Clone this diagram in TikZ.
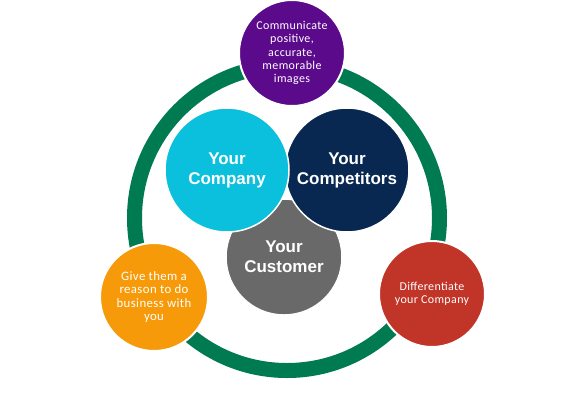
\documentclass[tikz,border=0pt]{standalone}
\usepackage{fontspec}
\setmainfont{Carlito}[LetterSpace=3]
\newfontfamily\innerfont{Liberation Sans}
\definecolor{ringgreen}{RGB}{0,122,80}
\definecolor{cpurple}{RGB}{92,10,140}
\definecolor{corange}{RGB}{247,154,10}
\definecolor{cred}{RGB}{193,52,40}
\definecolor{ccyan}{RGB}{10,192,220}
\definecolor{cnavy}{RGB}{8,40,82}
\definecolor{cgray}{RGB}{105,105,105}
\begin{document}
\begin{tikzpicture}[x=1pt,y=-1pt,
  outer/.style={circle,draw=white,line width=2pt,minimum size=#1,inner sep=0pt,text=white,align=center,
     font=\fontsize{12}{13.4}\selectfont},
  inner/.style={circle,draw=white,line width=1.5pt,minimum size=#1,inner sep=0pt,text=white,align=center,
     font=\innerfont\bfseries\fontsize{17}{20}\selectfont}]
\useasboundingbox (0,0) rectangle (584,400);
\node[circle,draw=ringgreen,line width=15pt,minimum size=305pt,inner sep=0pt] (ring) at (287,218) {};
\node[inner=116pt,fill=cgray] (cust) at (284,257) {Your\\Customer};
\node[inner=124pt,fill=cnavy] (comp) at (347,170) {Your\\Competitors};
\node[inner=124pt,fill=ccyan] (you) at (227,170) {Your\\Company};
\node[outer=106pt,fill=cpurple] (top) at (292,53) {Communicate\\positive,\\accurate,\\memorable\\images};
\node[outer=108pt,fill=corange,font=\fontsize{12.8}{13.4}\selectfont] (left) at (154,297) {Give them a\\reason to do\\business with\\you};
\node[outer=106pt,fill=cred] (right) at (432,294) {Differentiate\\your Company};
\end{tikzpicture}
\end{document}
